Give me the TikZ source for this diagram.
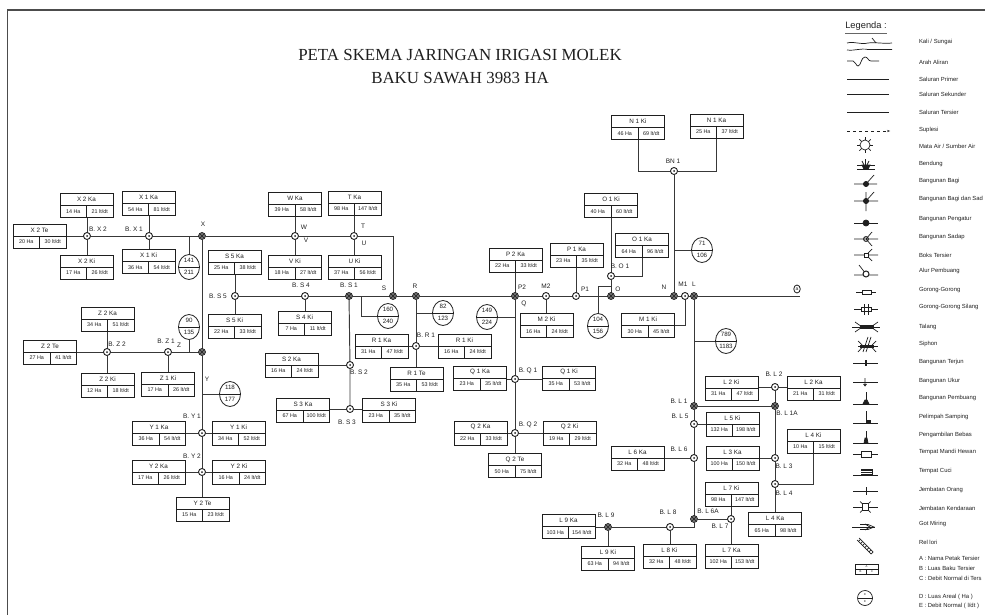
\documentclass[tikz,border=0pt]{standalone}
\usepackage{fontspec}
\setmainfont{Liberation Sans}
\newfontfamily\serifT{Liberation Serif}
\usetikzlibrary{shapes.geometric,calc,backgrounds,arrows.meta}
\definecolor{ink}{gray}{0.12}
\definecolor{wire}{gray}{0.22}
\tikzset{
  every node/.style={inner sep=0pt,outer sep=0pt},
  petakbox/.style={draw=ink,line width=0.8pt,fill=white,minimum width=53pt,minimum height=24pt,anchor=north west},
  boxinner/.style={draw=ink,line width=0.6pt},
  ptitle/.style={text=ink,font=\fontsize{6.3}{7}\selectfont},
  pdata/.style={text=ink,font=\fontsize{5.4}{6}\selectfont},
  lab/.style={text=ink,font=\fontsize{6.5}{7}\selectfont},
  jo/.style={circle,draw=ink,line width=0.9pt,fill=white,minimum size=7pt,
    path picture={\fill[ink] (path picture bounding box.center) circle (1pt);}},
  jd/.style={circle,draw=ink,line width=0.7pt,fill=black!55,minimum size=7pt,
    path picture={\draw[ink,line width=0.6pt]
      ([xshift=-4pt,yshift=-4pt]path picture bounding box.center)--([xshift=4pt,yshift=4pt]path picture bounding box.center)
      ([xshift=-4pt,yshift=4pt]path picture bounding box.center)--([xshift=4pt,yshift=-4pt]path picture bounding box.center);}},
  arealn/.style={ellipse,draw=ink,line width=0.8pt,fill=white,minimum width=21pt,minimum height=25pt},
  atext/.style={text=ink,font=\fontsize{6.2}{7}\selectfont},
  wirel/.style={draw=wire,line width=0.95pt},
  legtext/.style={anchor=west,text=ink,font=\fontsize{5.9}{7}\selectfont},
  sym/.style={draw=ink,line width=0.7pt},
  tiny/.style={text=ink,font=\fontsize{2.8}{3}\selectfont},
}
% name, left, top, title, ha, lt
\newcommand{\petak}[6]{%
  \node[petakbox] (#1) at (#2,#3) {};
  \draw[boxinner] (#1.west) -- (#1.east) (#1.center) -- (#1.south);
  \node[ptitle] (#1-t) at ($(#1.north)!0.5!(#1.center)$) {#4};
  \node[pdata] (#1-a) at ($(#1.center)!0.5!(#1.south west)$) {#5 Ha};
  \node[pdata] (#1-b) at ($(#1.center)!0.5!(#1.south east)$) {#6 lt/dt};
}
% name, x, y, top, bottom
\newcommand{\areal}[5]{%
  \node[arealn] (#1) at (#2,#3) {};
  \draw[boxinner] (#1.west) -- (#1.east);
  \node[atext] (#1-t) at ($(#1.center)+(0,-6.2)$) {#4};
  \node[atext] (#1-b) at ($(#1.center)+(0,5.8)$) {#5};
}
\begin{document}
\begin{tikzpicture}[x=1pt,y=-1pt]
\useasboundingbox (0,0) rectangle (985,615);
% frame
\draw[black!70,line width=1.2pt] (7.5,615) -- (7.5,10) -- (985,10);
% title
\node[font=\serifT\fontsize{16.9}{18}\selectfont,text=ink] (title1) at (460,55) {PETA SKEMA JARINGAN IRIGASI MOLEK};
\node[font=\serifT\fontsize{16.9}{18}\selectfont,text=ink] (title2) at (460,78) {BAKU SAWAH 3983 HA};

% boxes
\petak{X2Ka}{60}{193.5}{X 2 Ka}{14}{21}
\petak{X2Te}{13}{224}{X 2 Te}{20}{30}
\petak{X2Ki}{60}{255}{X 2 Ki}{17}{26}
\petak{X1Ka}{122}{191.5}{X 1 Ka}{54}{81}
\petak{X1Ki}{122}{249.5}{X 1 Ki}{36}{54}
\petak{SFKa}{208}{250}{S 5 Ka}{25}{38}
\petak{SFKi}{208}{314}{S 5 Ki}{22}{33}
\petak{WKa}{268.5}{192}{W Ka}{39}{58}
\petak{VKi}{268.5}{255}{V Ki}{18}{27}
\petak{TKa}{328}{191}{T Ka}{98}{147}
\petak{UKi}{328}{255}{U Ki}{37}{56}
\petak{S4Ki}{278}{311}{S 4 Ki}{7}{11}
\petak{S2Ka}{265}{353}{S 2 Ka}{16}{24}
\petak{S3Ka}{276.5}{398}{S 3 Ka}{67}{100}
\petak{S3Ki}{362.5}{398}{S 3 Ki}{23}{35}
\petak{R1Ka}{355}{334}{R 1 Ka}{31}{47}
\petak{R1Ki}{438}{334}{R 1 Ki}{16}{24}
\petak{R1Te}{390}{367}{R 1 Te}{35}{53}
\petak{Z2Ka}{81}{307}{Z 2 Ka}{34}{51}
\petak{Z2Te}{23.5}{340}{Z 2 Te}{27}{41}
\petak{Z2Ki}{81}{373}{Z 2 Ki}{12}{18}
\petak{Z1Ki}{141.5}{372}{Z 1 Ki}{17}{26}
\petak{Y1Ka}{132.5}{421}{Y 1 Ka}{36}{54}
\petak{Y1Ki}{212}{421}{Y 1 Ki}{34}{52}
\petak{Y2Ka}{132}{460}{Y 2 Ka}{17}{26}
\petak{Y2Ki}{212.5}{460}{Y 2 Ki}{16}{24}
\petak{Y2Te}{176}{497}{Y 2 Te}{15}{23}
\petak{Q1Ka}{453.5}{366}{Q 1 Ka}{23}{35}
\petak{Q1Ki}{542.5}{366}{Q 1 Ki}{35}{53}
\petak{Q2Ka}{454}{421}{Q 2 Ka}{22}{33}
\petak{Q2Ki}{543}{421}{Q 2 Ki}{19}{29}
\petak{Q2Te}{488.5}{453.5}{Q 2 Te}{50}{75}
\petak{P2Ka}{489}{248}{P 2 Ka}{22}{33}
\petak{P1Ka}{550}{243}{P 1 Ka}{23}{35}
\petak{M2Ki}{520}{313.5}{M 2 Ki}{16}{24}
\petak{O1Ki}{584.5}{193.5}{O 1 Ki}{40}{60}
\petak{O1Ka}{615.5}{233.5}{O 1 Ka}{64}{96}
\petak{N1Ki}{611.5}{115.5}{N 1 Ki}{46}{69}
\petak{N1Ka}{690}{114}{N 1 Ka}{25}{37}
\petak{M1Ki}{621.5}{313.5}{M 1 Ki}{30}{45}
\petak{L2Ki}{705}{376}{L 2 Ki}{31}{47}
\petak{L2Ka}{787}{376}{L 2 Ka}{21}{31}
\petak{L5Ki}{706}{412}{L 5 Ki}{132}{198}
\petak{L3Ka}{706}{446}{L 3 Ka}{100}{150}
\petak{L6Ka}{611}{446}{L 6 Ka}{32}{48}
\petak{L4Ki}{787}{429}{L 4 Ki}{10}{15}
\petak{L7Ki}{705}{482}{L 7 Ki}{98}{147}
\petak{L7Ka}{705}{544}{L 7 Ka}{102}{153}
\petak{L4Ka}{748.5}{512.5}{L 4 Ka}{65}{98}
\petak{L9Ka}{542}{514.5}{L 9 Ka}{103}{154}
\petak{L9Ki}{581.5}{546}{L 9 Ki}{63}{94}
\petak{L8Ki}{643}{544}{L 8 Ki}{32}{48}

% areal circles
\areal{A141}{189}{267}{141}{211}
\areal{A90}{189}{327}{90}{135}
\areal{A118}{230}{394}{118}{177}
\areal{A160}{388}{316}{160}{240}
\areal{A82}{443}{313}{82}{123}
\areal{A149}{487}{317}{149}{224}
\areal{A104}{598}{326}{104}{156}
\areal{A71}{702}{250}{71}{106}
\areal{A789}{726}{341}{789}{1183}

% junctions
\foreach \n/\x/\y in {BX2/87/236,BX1/149/236,W/295/236,T/354/236,BS5/235/296,BZ2/107/352,BZ1/168/352,
  BY1/202/433,BY2/202/472,BS4/305/296,BS2/350/365,BS3/350/409,BR1/416/346,BQ1/515/379,BQ2/515/433,
  M2/546/296,P1/576/296,BO1/611/276,BN1/674/171,M1/685/296,BL5/694/424,BL6/694/458,BL2/775/387,
  BL3/775/458,BL4/775/484,BL7/731/519,BL8/670/527}
  \node[jo] (\n) at (\x,\y) {};
\foreach \n/\x/\y in {X/202/236,Z/202/352,BS1/349/296,S/393/296,R/416/296,P2/515/296,O/611/296,N/674/296,
  L/694/296,BL1/694/406,BL1A/775/406,BL6A/694/519,BL9/608/527}
  \node[jd] (\n) at (\x,\y) {};
\node[ellipse,draw=ink,line width=0.8pt,fill=white,minimum width=6.5pt,minimum height=8pt,font=\fontsize{5}{5}\selectfont,text=ink] (aend) at (797,289) {a};
\coordinate (mainend) at (800,296);
\coordinate (s160) at (361,296);

% connectors
\begin{scope}[on background layer]
 \draw[wirel] (X2Te.east |- BX2) -- (BX2) -- (BX1) -- (X) -- (W) -- (T) -- (S |- T) -- (S);
 \draw[wirel] (BX2) -- (BX2 |- X2Ka.south) (BX2) -- (BX2 |- X2Ki.north);
 \draw[wirel] (BX1) -- (BX1 |- X1Ka.south) (BX1) -- (BX1 |- X1Ki.north);
 \draw[wirel] (W) -- (W |- WKa.south) (W) -- (W |- VKi.north);
 \draw[wirel] (T) -- (T |- TKa.south) (T) -- (T |- UKi.north);
 \draw[wirel] (X) -- (Z) -- (BY1) -- (BY2) -- (BY2 |- Y2Te.north);
 \draw[wirel] (A141.north) -- (A141.north |- X);
 \draw[wirel] (A90.south) -- (A90.south |- Z);
 \draw[wirel] (Z |- A118) -- (A118.west);
 \draw[wirel] (Z2Te.east |- BZ2) -- (BZ2) -- (BZ1) -- (Z);
 \draw[wirel] (BZ2) -- (BZ2 |- Z2Ka.south) (BZ2) -- (BZ2 |- Z2Ki.north);
 \draw[wirel] (BZ1) -- (BZ1 |- Z1Ki.north);
 \draw[wirel] (BS5) -- (BS4) -- (BS1) -- (S) -- (R) -- (P2) -- (M2) -- (P1) -- (O) -- (N) -- (M1) -- (L) -- (mainend);
 \draw[wirel] (BS5) -- (BS5 |- SFKa.south) (BS5) -- (BS5 |- SFKi.north);
 \draw[wirel] (BS4) -- (BS4 |- S4Ki.north);
 \draw[wirel] (BS1) -- (BS2) -- (BS3);
 \draw[wirel] (S2Ka.east |- BS2) -- (BS2);
 \draw[wirel] (S3Ka.east |- BS3) -- (BS3) -- (S3Ki.west |- BS3);
 \draw[wirel] (s160) -- (s160 |- A160) -- (A160.west);
 \draw[wirel] (R) -- (BR1) -- (BR1 |- R1Te.north);
 \draw[wirel] (R |- A82) -- (A82.west);
 \draw[wirel] (R1Ka.east |- BR1) -- (BR1) -- (R1Ki.west |- BR1);
 \draw[wirel] (BY1) -- (Y1Ka.east |- BY1) (BY1) -- (Y1Ki.west |- BY1);
 \draw[wirel] (BY2) -- (Y2Ka.east |- BY2) (BY2) -- (Y2Ki.west |- BY2);
 \draw[wirel] (P2 |- P2Ka.south) -- (P2) -- (BQ1) -- (BQ2) -- (BQ2 |- Q2Te.north);
 \draw[wirel] (P2 |- A149) -- (A149.east);
 \draw[wirel] (Q1Ka.east |- BQ1) -- (BQ1) -- (Q1Ki.west |- BQ1);
 \draw[wirel] (Q2Ka.east |- BQ2) -- (BQ2) -- (Q2Ki.west |- BQ2);
 \draw[wirel] (M2) -- (M2 |- M2Ki.north);
 \draw[wirel] (P1) -- (P1 |- P1Ka.south);
 \draw[wirel] (O |- O1Ki.south) -- (BO1) -- (O);
 \draw[wirel] (O1Ka.south) |- (BO1);
 \draw[wirel] (A104.north) |- ($(BO1)!0.5!(O)$);
 \draw[wirel] (BN1) -- (N);
 \draw[wirel] (N1Ki.south) |- (BN1) -| (N1Ka.south);
 \draw[wirel] (N |- A71) -- (A71.west);
 \draw[wirel] (M1) |- (M1Ki.east);
 \draw[wirel] (L) -- (BL1) -- (BL5) -- (BL6) -- (BL6A) -- (BL6A |- BL8) -- (BL8) -- (BL9) -- (L9Ka.east |- BL9);
 \draw[wirel] (L |- A789) -- (A789.west);
 \draw[wirel] (BL9) -- (BL9 |- L9Ki.north);
 \draw[wirel] (BL8) -- (BL8 |- L8Ki.north);
 \draw[wirel] (BL1) -- (BL1A);
 \draw[wirel] (BL2) -- (BL1A) -- (BL3) -- (BL4) -- (BL4 |- L4Ka.north);
 \draw[wirel] (L2Ki.east |- BL2) -- (BL2) -- (L2Ka.west |- BL2);
 \draw[wirel] (L5Ki.west |- BL5) -- (BL5);
 \draw[wirel] (L6Ka.east |- BL6) -- (BL6);
 \draw[wirel] (L3Ka.east |- BL3) -- (BL3);
 \draw[wirel] (BL4) -| ($(L4Ki.south)+(-0.5,0)$);
 \draw[wirel] (BL6A) -- (BL7);
 \draw[wirel] (BL7 |- L7Ki.south) -- (BL7) -- (BL7 |- L7Ka.north);
\end{scope}

% labels
\foreach \n/\x/\y/\t in {
 lBX2/98/229/B. X 2, lBX1/134/229/B. X 1, lX/203/224/X, lBS5/218/296/B. S 5, lBZ2/117/344/B. Z 2,
 lBZ1/166/341/B. Z 1, lZ/179/345/Z, lY/207/379/Y, lBY1/192/416/B. Y 1, lBY2/192/456/B. Y 2, lBS3/347/422/B. S 3,
 lW/304/227/W, lV/306/240/V, lT/363/226/T, lU/364/243/U, lBS4/301/285/B. S 4, lBS1/349/285/B. S 1, lS/384/288/S,
 lR/415/286/R, lBR1/426/335/B. R 1, lBS2/359/372/B. S 2, lP2/522/287/P2, lM2/546/286/M2, lP1/585/289/P1,
 lBO1/620/266/B. O 1, lO/618/289/O, lN/664/287/N, lM1/683/284/M1, lL/694/284/L, lQ/524/304/Q, lBN1/673/161/BN 1,
 lBQ1/528/371/B. Q 1, lBQ2/528/425/B. Q 2, lBL2/774/374/B. L 2, lBL1/679/401/B. L 1, lBL1A/787/413/B. L 1A,
 lBL5/680/416/B. L 5, lBL6/679/449/B. L 6, lBL3/784/466/B. L 3, lBL4/784/493/B. L 4, lBL8/668/512/B. L 8,
 lBL6A/708/511/B. L 6A, lBL7/720/526/B. L 7, lBL9/606/515/B. L 9}
  \node[lab] (\n) at (\x,\y) {\t};

% legend
\node[text=ink,font=\fontsize{9.3}{10}\selectfont] (legtitle) at (866,26) {Legenda :};
\draw[black!60,line width=0.9pt] (845,33.5) -- (887,33.5);
\foreach \n/\y/\t in {t1/42/{Kali / Sungai}, t2/62/Arah Aliran, t3/79/Saluran Primer, t4/94/Saluran Sekunder,
 t5/112/Saluran Tersier, t6/130/Suplesi, t7/146/{Mata Air / Sumber Air}, t8/164/Bendung, t9/181/Bangunan Bagi,
 t10/199/Bangunan Bagi dan Sad, t11/219/Bangunan Pengatur, t12/237/Bangunan Sadap, t13/255/Boks Tersier,
 t14/271/Alur Pembuang, t15/290/Gorong-Gorong, t16/307/Gorong-Gorong Silang, t17/327/Talang, t18/344/Siphon,
 t19/362/Bangunan Terjun, t20/381/Bangunan Ukur, t21/398/Bangunan Pembuang, t22/417/Pelimpah Samping,
 t23/435/Pengambilan Bebas, t24/452/Tempat Mandi Hewan, t25/471/Tempat Cuci, t26/490/Jembatan Orang,
 t27/508/Jembatan Kendaraan, t28/524/Got Miring, t29/542/Rel lori,
 t30/558/A : Nama Petak Tersier, t31/568/B : Luas Baku Tersier, t32/578/C : Debit Normal di Ters,
 t33/597/D : Luas Areal ( Ha ), t34/606/{E : Debit Normal ( l/dt )}}
  \node[legtext] (\n) at (919,\y) {\t};

\begin{scope}[every path/.append style={sym}]
 % kali
 \draw (847,43) .. controls (855,41) and (860,45) .. (868,43) .. controls (875,42) and (884,44) .. (892,43);
 \draw (847,50) .. controls (855,51) and (860,48) .. (868,49.5) -- (892,49.5);
 \draw (872,38) -- (876,43);
 % arah
 \draw (847,61) -- (853,61) .. controls (856,62) and (856,66) .. (858,66) .. controls (861,66) and (861,57) .. (865,57) .. controls (868,57) and (868,61) .. (871,61) -- (879,61);
 % saluran
 \draw (847,79) -- (889,79);
 \draw (847,94) -- (889,94);
 \draw (847,112) -- (889,112);
 \draw[dashed,-{Stealth[length=3pt]}] (847,131) -- (890,131);
 % mata air
 \draw (865,145) circle (5);
 \foreach \a in {0,45,...,315} \draw ($(865,145)+(\a:5)$) -- ($(865,145)+(\a:8)$);
 % bendung
 \draw (857,165) -- (875,165) (857,169.5) -- (875,169.5);
 \fill[ink] (862,165) -- (870,165) -- (868,169.5) -- (864,169.5) -- cycle;
 \draw (865.5,159) -- (865.5,165) (862,161) -- (864,165) (869,161) -- (867,165);
 % bagi
 \draw (854,184) -- (877,184) (866,184) -- (874,175);
 \fill[ink] (866,184) circle (2.6);
 % bagi dan sadap
 \draw (854,201) -- (878,201) (866,201) -- (874,192) (866,192) -- (866,211);
 \fill[ink] (866,201) circle (2.6);
 % pengatur
 \draw (854,223) -- (878,223);
 \fill[ink] (866,223) circle (3);
 % sadap
 \draw (854,239) -- (878,239) (866,239) -- (872,232) (866,239) -- (872,246);
 \draw[line width=1pt] (866,239) circle (2.4);
 % boks
 \draw (854,255) -- (878,255) (868,253) -- (872,249) (868,257) -- (872,261);
 \draw[fill=white] (864,253) rectangle (868,257);
 % alur
 \draw (854,275) -- (878,275) (866,274) -- (859,265);
 \draw[line width=1pt,fill=white] (866,274) circle (3);
 % gorong
 \draw (856,292) -- (876,292);
 \draw[fill=white] (862,290) rectangle (871,294);
 % silang
 \draw (854,309) -- (878,309);
 \draw[fill=white] (861,307) rectangle (871,311);
 \draw (864,304) -- (864,315) (868,304) -- (868,315);
 % talang
 \draw (852,327) -- (880,327);
 \fill[ink] (860,325.5) rectangle (873,328.5);
 \draw (855,322) -- (860,325.5) (878,322) -- (873,325.5) (855,332) -- (860,328.5) (878,332) -- (873,328.5);
 % siphon
 \draw (858,346) -- (878,346);
 \fill[ink] (860,345) rectangle (873,347.5);
 \draw (858,341) -- (862,345) (876,341) -- (872,345) (858,352) -- (862,347.5) (876,352) -- (872,347.5);
 \draw (866,352) -- (871,337) (863,352) -- (868,337);
 % terjun
 \draw (853,363) -- (878,363);
 \draw[line width=1.2pt] (866,360) -- (866,366);
 % ukur
 \draw (853,382) -- (878,382);
 \draw (865,378) -- (865,386) (863.5,384) -- (865,386) -- (866.5,384);
 % pembuang
 \draw (853,404) -- (878,404) (866,392) -- (866,404);
 \fill[ink] (863,404) -- (869,404) -- (867,400) -- (865,400) -- cycle;
 % pelimpah
 \draw (853,423) -- (878,423) (866,411) -- (866,423);
 \fill[ink] (866,420) rectangle (870,423);
 % pengambilan
 \draw (853,443) -- (878,443) (866,431) -- (866,443);
 \fill[ink] (864,443) -- (868,443) -- (867,438) -- (865,438) -- cycle;
 % mandi
 \draw (853,454) -- (878,454);
 \draw[fill=white,line width=0.8pt] (861,451) rectangle (871,457);
 % cuci
 \draw (853,475) -- (878,475);
 \fill[ink] (861,469) rectangle (872,475);
 \draw[white,line width=0.3pt] (861,471) -- (872,471) (861,473) -- (872,473);
 % orang
 \draw (853,491) -- (878,491);
 \draw[line width=1pt] (866,487) -- (866,495);
 % kendaraan
 \draw (853,507) -- (878,507);
 \draw[fill=white] (862,503.5) rectangle (868.5,510.5);
 \draw (862,503.5) -- (860,501.5) (868.5,503.5) -- (870.5,501.5) (862,510.5) -- (860,512.5) (868.5,510.5) -- (870.5,512.5);
 % got
 \draw (852,527) -- (875,527);
 \draw (860,524.5) -- (868,524.5) -- (874,527) -- (868,529.5) -- (860,529.5);
 \draw (865,524) -- (870,527) -- (865,530);
 % rel
 \draw (859,538) -- (873,552) (857,540) -- (871,554);
 \foreach \t in {0.1,0.25,0.4,0.55,0.7,0.85,1}
  \draw ($(859,538)!\t!(873,552)$) -- ($(857,540)!\t!(871,554)$);
 % contoh petak
 \draw (855,564) rectangle (878,574);
 \draw (855,569) -- (878,569) (866.5,569) -- (866.5,574);
 \node[tiny] (ca) at (866.5,566.5) {A};
 \node[tiny] (cb) at (860.5,571.5) {B};
 \node[tiny] (cc) at (872,571.5) {C};
 % contoh lingkaran
 \draw (865,598) circle (7.5);
 \draw (857.5,598) -- (872.5,598);
 \node[tiny] (cd) at (865,594.5) {D};
 \node[tiny] (ce) at (865,601.5) {E};
\end{scope}
\end{tikzpicture}
\end{document}
